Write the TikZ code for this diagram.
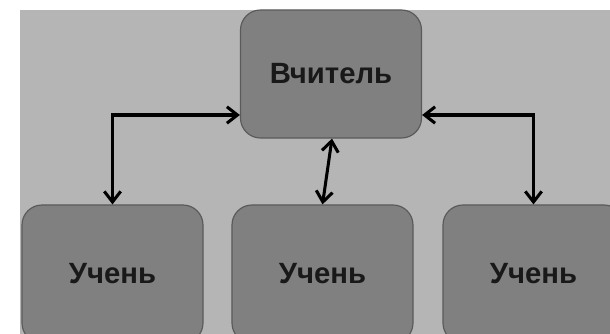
\documentclass[tikz,border=0pt]{standalone}
\usepackage{fontspec}
\setmainfont{Liberation Sans}
\usetikzlibrary{arrows.meta}
\definecolor{bggray}{HTML}{B5B5B5}
\definecolor{boxgray}{HTML}{808080}
\definecolor{edgegray}{HTML}{5A5A5A}

\begin{document}
\begin{tikzpicture}[x=0.03cm, y=0.03cm,
    box/.style={draw=edgegray, line width=1pt, fill=boxgray, rounded corners=0.6cm,
      minimum width=5.43cm, text=black!90, font=\bfseries\fontsize{25}{30}\selectfont},
    link/.style={line width=2.6pt,
      {Straight Barb[length=9pt,width=14pt]}-{Straight Barb[length=9pt,width=14pt]}}]
    \useasboundingbox (0,0) rectangle (610,334);
    \clip (0,0) rectangle (610,334);
    \fill[bggray] (20,0) rectangle (610,324);

    \node[box, minimum height=3.84cm] (teacher) at (331,260) {Вчитель};
    \node[box, minimum height=4.14cm] (s1) at (112.5,60) {Учень};
    \node[box, minimum height=4.14cm] (s2) at (322.5,60) {Учень};
    \node[box, minimum height=4.14cm] (s3) at (533.5,60) {Учень};

    \draw[link] (s1.north) |- ([yshift=-1.23cm]teacher.west);
    \draw[link] ([yshift=-1.23cm]teacher.east) -| (s3.north);
    \draw[link] ([xshift=0.03cm]teacher.south) -- (s2.north);
\end{tikzpicture}
\end{document}
